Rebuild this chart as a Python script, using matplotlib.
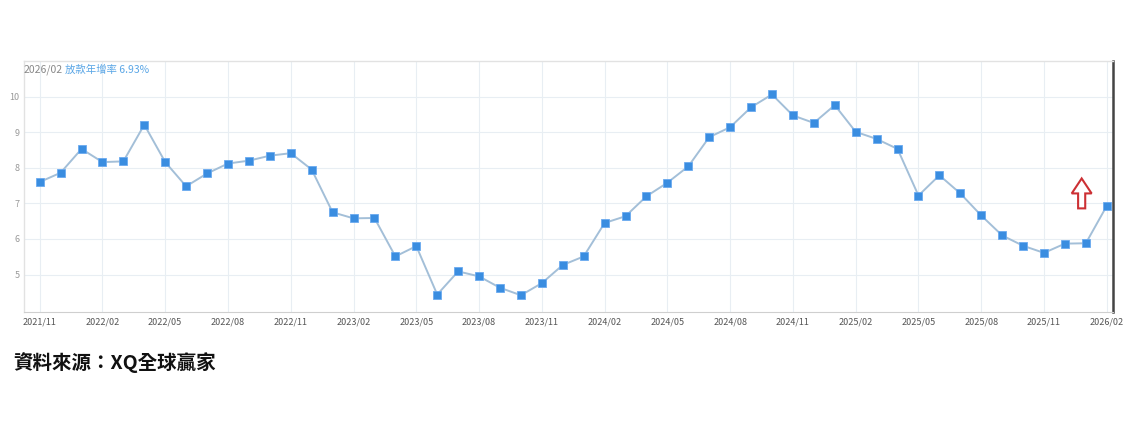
import numpy as np
import matplotlib
matplotlib.use("Agg")
import matplotlib.pyplot as plt
from matplotlib.patches import FancyArrow

plt.rcParams['font.family'] = ['Noto Sans CJK TC', 'DejaVu Sans']

# monthly loan growth rate, 2021/11 .. 2026/02
months = []
for y in range(2021, 2027):
    for m in range(1, 13):
        if (y, m) >= (2021, 11) and (y, m) <= (2026, 2):
            months.append(f"{y}/{m:02d}")

values = [7.60, 7.86, 8.53, 8.16, 8.18, 9.21, 8.16, 7.48, 7.84, 8.12,
          8.20, 8.34, 8.41, 7.95, 6.75, 6.58, 6.59, 5.51, 5.80, 4.44,
          5.09, 4.95, 4.63, 4.42, 4.76, 5.27, 5.51, 6.45, 6.64, 7.20,
          7.58, 8.04, 8.86, 9.14, 9.70, 10.06, 9.47, 9.26, 9.76, 9.01,
          8.81, 8.53, 7.22, 7.79, 7.28, 6.66, 6.10, 5.81, 5.61, 5.87,
          5.88, 6.93]

yticks = [5, 6, 7, 8, 9, 10]

x = np.arange(len(values))
tick_idx = x[::3]
tick_lab = [months[i] for i in tick_idx]

fig = plt.figure(figsize=(11.26, 4.22), dpi=100)
ax = fig.add_axes([0.0213, 0.2607, 0.9672, 0.5948])

ax.plot(x, values, color='#a3bfd8', lw=1.4, zorder=2)
ax.plot(x, values, ls='none', marker='s', ms=5.2, mfc='#3a8de0',
        mec='#6aaaf0', mew=0.6, zorder=3)

ax.set_xlim(-0.75, 51.3)
ax.set_ylim(3.95, 11.0)
ax.set_xticks(tick_idx)
ax.set_xticklabels(tick_lab, fontsize=6.5, color='#555555')
ax.set_yticks(yticks)
ax.set_yticklabels([str(v) for v in yticks], fontsize=6.5, color='#999999')
ax.tick_params(axis='both', length=0, pad=4)
ax.tick_params(axis='y', pad=3)
ax.grid(True, color='#e8eef3', lw=0.8)
ax.set_axisbelow(True)

for s in ['top', 'left']:
    ax.spines[s].set_color('#e2e2e2')
    ax.spines[s].set_linewidth(1.0)
ax.spines['bottom'].set_color('#cfcfcf')
ax.spines['right'].set_color('#444444')
ax.spines['right'].set_linewidth(1.8)

ax.text(0.0, 0.985, months[-1], transform=ax.transAxes, fontsize=7.5,
        color='#888888', va='top', ha='left')
ax.text(0.038, 0.985, f"放款年增率 {values[-1]:.2f}%", transform=ax.transAxes,
        fontsize=7.5, color='#5aa6e6', va='top', ha='left')

# hollow red up arrow
arr = FancyArrow(49.8, 6.86, 0, 0.84, width=0.34, head_width=0.95,
                 head_length=0.42, length_includes_head=True,
                 facecolor='white', edgecolor='#cc3034', lw=1.5, zorder=4)
ax.add_patch(arr)

fig.text(0.012, 0.142, "資料來源：XQ全球贏家", fontsize=14, fontweight='bold',
         color='#111111', ha='left', va='center')

fig.savefig("out.png", dpi=100, facecolor='white')
